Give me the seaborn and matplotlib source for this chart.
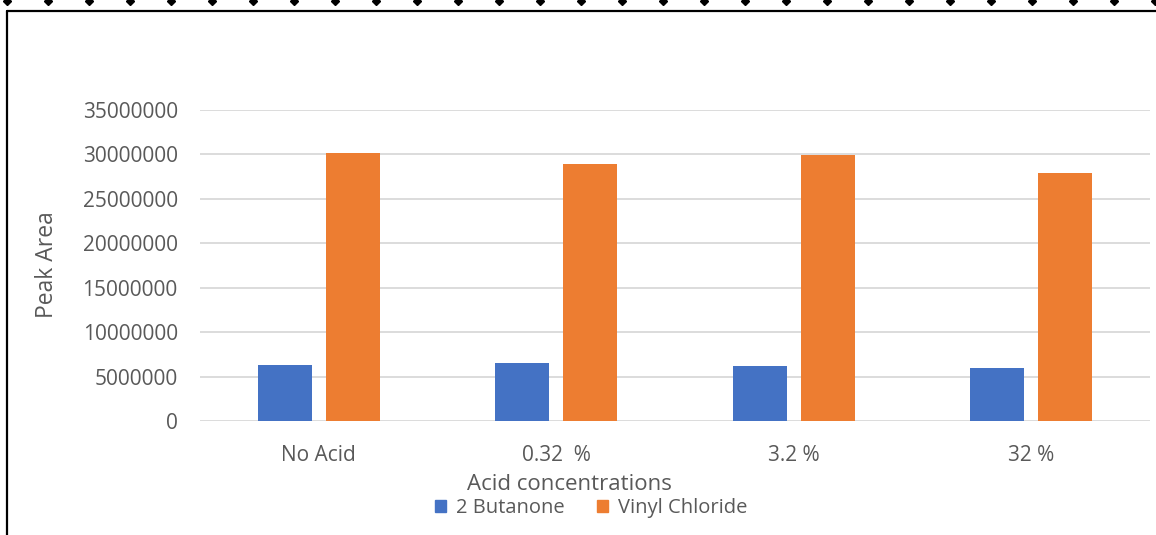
import numpy as np
import pandas as pd
import matplotlib
matplotlib.use("Agg")
import matplotlib.pyplot as plt
from matplotlib.lines import Line2D
from matplotlib.patches import Rectangle
import seaborn as sns

# Data
concentrations = ["No Acid", "0.32  %", "3.2 %", "32 %"]
butanone = [6300000, 6490000, 6230000, 5930000]
vinyl_chloride = [30160000, 28890000, 29930000, 27910000]
series_names = ["2 Butanone", "Vinyl Chloride"]
y_ticks = [0, 5000000, 10000000, 15000000, 20000000, 25000000, 30000000, 35000000]

df = pd.DataFrame({
    "Acid concentrations": concentrations * 2,
    "Peak Area": butanone + vinyl_chloride,
    "Compound": [series_names[0]] * 4 + [series_names[1]] * 4,
})

sns.set_theme(style="white")
plt.rcParams["font.family"] = ["Open Sans", "DejaVu Sans"]

W, H = 1156, 535
fig = plt.figure(figsize=(W / 100, H / 100), dpi=100)
ax = fig.add_axes([200 / W, 1 - 421 / H, 950 / W, 311 / H])

text_color = "#595959"
colors = ["#4472C4", "#ED7D31"]

sns.barplot(data=df, x="Acid concentrations", y="Peak Area", hue="Compound",
            palette=colors, width=0.573, gap=0.206, ax=ax, legend=False,
            edgecolor="none", saturation=1)

ax.set_ylim(0, 35000000)
ax.set_xlim(-0.5, len(concentrations) - 0.5)
ax.set_yticks(y_ticks)
ax.set_yticklabels([str(v) for v in y_ticks])
ax.yaxis.grid(True, color="#d9d9d9", linewidth=1.3)
ax.set_axisbelow(True)
for s in ax.spines.values():
    s.set_visible(False)
ax.tick_params(axis="both", length=0, colors=text_color, labelsize=15)
ax.tick_params(axis="y", pad=16)
ax.tick_params(axis="x", pad=17)

ax.set_ylabel("")
ax.set_xlabel("")
fig.text(47 / W, 1 - 265 / H, "Peak Area", rotation=90, ha="center", va="center",
         fontsize=16.5, color=text_color)
fig.text(569 / W, 1 - 484 / H, "Acid concentrations", ha="center", va="center",
         fontsize=16, color=text_color)

handles = [Rectangle((0, 0), 1, 1, color=c) for c in colors]
fig.legend(handles, series_names, loc="center", bbox_to_anchor=(591 / W, 1 - 508 / H),
           ncol=2, frameon=False, fontsize=14.5, labelcolor=text_color,
           handlelength=0.55, handleheight=0.6, handletextpad=0.5,
           columnspacing=1.6, borderpad=0, borderaxespad=0)

# Outer frame
fig.add_artist(Line2D([7 / W, 7 / W], [0, 1 - 11 / H], color="black", lw=1.6,
                      transform=fig.transFigure))
fig.add_artist(Line2D([7 / W, 1], [1 - 11 / H, 1 - 11 / H], color="black", lw=1.6,
                      transform=fig.transFigure))
# Dotted marker row along the top edge
mx = np.arange(7, W + 1, 41.0) / W
fig.add_artist(Line2D(mx, [1 - 0.5 / H] * len(mx), linestyle="none", marker="D",
                      markersize=4, color="black", transform=fig.transFigure))

fig.savefig("out.png", dpi=100)
